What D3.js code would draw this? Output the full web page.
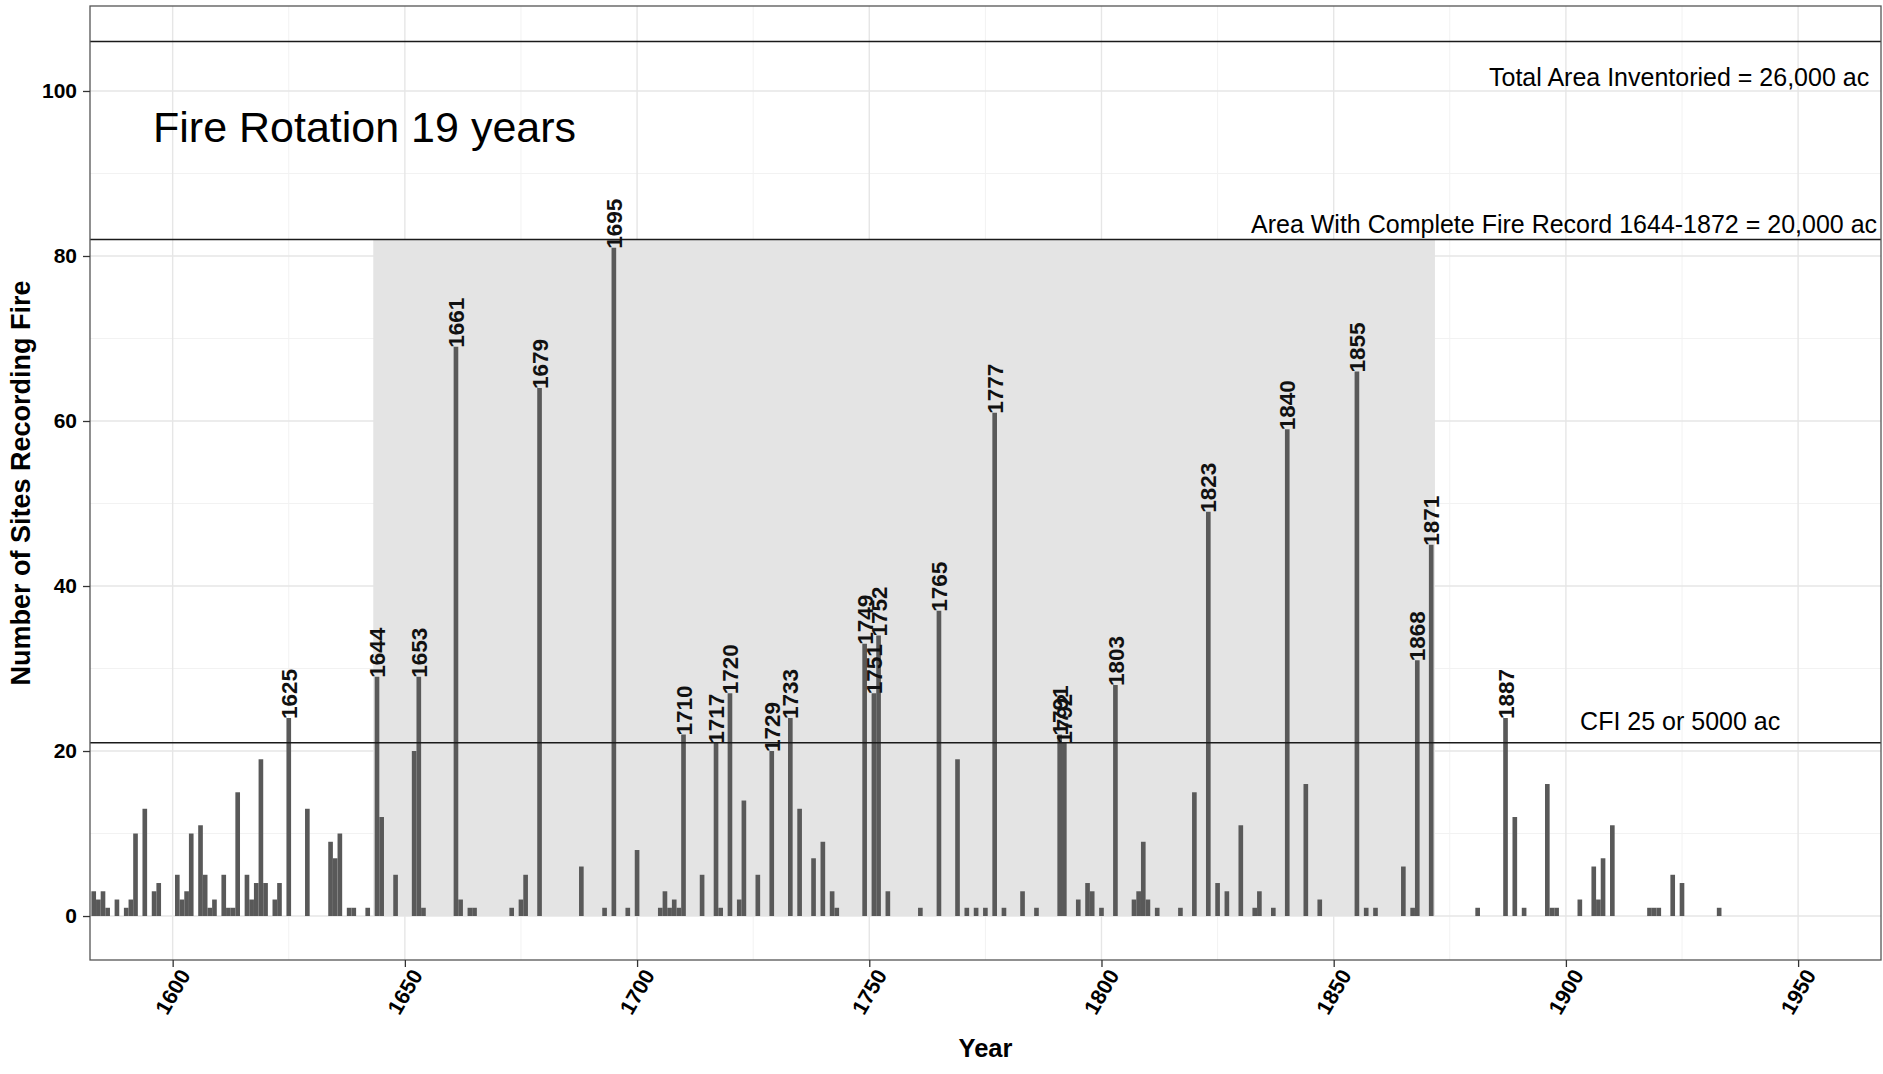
<!DOCTYPE html>
<html><head><meta charset="utf-8">
<script src="https://cdn.jsdelivr.net/npm/d3@7"></script>
<style>
html,body{margin:0;padding:0;background:#fff;}
svg{display:block;}
text{font-family:"Liberation Sans",Arial,sans-serif;}
</style></head>
<body><svg id="chart" width="1883" height="1074"></svg>
<script>
// Fire years and the number of sites recording a fire in each year
const years = [1583,1584,1585,1586,1588,1590,1591,1592,1594,1596,1597,
  1601,1602,1603,1604,1606,1607,1608,1609,1611,1612,1613,1614,1616,1617,1618,1619,1620,1622,1623,1625,1629,1634,1635,1636,1638,1639,1642,1644,1645,1648,
  1652,1653,1654,1661,1662,1664,1665,1673,1675,1676,1679,1688,1693,1695,1698,1700,
  1705,1706,1707,1708,1709,1710,1714,1717,1718,1720,1722,1723,1726,1729,1733,1735,1738,1740,1742,1743,1749,1751,1752,1754,1761,1765,1769,1771,1773,1775,1777,1779,1783,1786,
  1791,1792,1795,1797,1798,1800,1803,1807,1808,1809,1810,1812,1817,1820,1823,1825,1827,1830,1833,1834,1837,1840,1844,1847,
  1855,1857,1859,1865,1867,1868,1871,1881,1887,1889,1891,1896,1897,1898,1903,1906,1907,1908,1910,1918,1919,1920,1923,1925,1933];
const sites = [3,2,3,1,2,1,2,10,13,3,4,
  5,2,3,10,11,5,1,2,5,1,1,15,5,2,4,19,4,2,4,24,13,9,7,10,1,1,1,29,12,5,
  20,29,1,69,2,1,1,1,2,5,64,6,1,81,1,8,
  1,3,1,2,1,22,5,21,1,27,2,14,5,20,24,13,7,9,3,1,33,27,34,3,1,37,19,1,1,1,61,1,3,1,
  22,21,2,4,3,1,28,2,3,9,2,1,1,15,49,4,3,11,1,3,1,59,16,2,
  66,1,1,6,1,31,45,1,24,12,1,16,1,1,2,6,2,7,11,1,1,1,5,4,1];

// Years named above their bars
const labelledYears = [1625,1644,1653,1661,1679,1695,1710,1717,1720,1729,1733,1749,1751,1752,
  1765,1777,1791,1792,1803,1823,1840,1855,1868,1871,1887];

// Period with a complete fire record (shaded)
const completeRecord = [1643.2, 1871.8];
const completeRecordTop = 82;

// Area reference lines (sites) and their notes
const refValues = [106, 82, 21];
const refNotes = ["Total Area Inventoried = 26,000 ac",
  "Area With Complete Fire Record 1644-1872 = 20,000 ac",
  "CFI 25 or 5000 ac"];
const refNoteX = [1965.3, 1967, 1924.6];
const refNoteY = [100.6, 82.8, 22.6];
const refNoteAnchor = ["end", "end", "middle"];

const xTicks = [1600,1650,1700,1750,1800,1850,1900,1950];
const xMinor = [1625,1675,1725,1775,1825,1875,1925];
const yTicks = [0,20,40,60,80,100];
const yMinor = [10,30,50,70,90];

const data = years.map((y, i) => ({year: y, n: sites[i]}));

const svg = d3.select("#chart");
const P = {left: 90, right: 1881, top: 6, bottom: 960};

const x = d3.scaleLinear().domain([1582.2, 1967.85]).range([P.left, P.right]);
const y = d3.scaleLinear().domain([-5.33, 110.3]).range([P.bottom, P.top]);

svg.append("defs").append("clipPath").attr("id", "panel")
  .append("rect").attr("x", P.left).attr("y", P.top)
  .attr("width", P.right - P.left).attr("height", P.bottom - P.top);

const panel = svg.append("g").attr("clip-path", "url(#panel)");

// grid
panel.append("g").selectAll("line").data(xMinor).join("line")
  .attr("x1", d => x(d)).attr("x2", d => x(d)).attr("y1", P.top).attr("y2", P.bottom)
  .attr("stroke", "#f2f2f2").attr("stroke-width", 1);
panel.append("g").selectAll("line").data(yMinor).join("line")
  .attr("y1", d => y(d)).attr("y2", d => y(d)).attr("x1", P.left).attr("x2", P.right)
  .attr("stroke", "#f2f2f2").attr("stroke-width", 1);
panel.append("g").selectAll("line").data(xTicks).join("line")
  .attr("x1", d => x(d)).attr("x2", d => x(d)).attr("y1", P.top).attr("y2", P.bottom)
  .attr("stroke", "#e6e6e6").attr("stroke-width", 1.4);
panel.append("g").selectAll("line").data(yTicks).join("line")
  .attr("y1", d => y(d)).attr("y2", d => y(d)).attr("x1", P.left).attr("x2", P.right)
  .attr("stroke", "#e6e6e6").attr("stroke-width", 1.4);

// shaded complete-record period
panel.append("rect")
  .attr("x", x(completeRecord[0])).attr("width", x(completeRecord[1]) - x(completeRecord[0]))
  .attr("y", y(completeRecordTop)).attr("height", y(0) - y(completeRecordTop))
  .attr("fill", "#e4e4e4");

// bars
const bw = x(1) - x(0);
panel.append("g").selectAll("rect").data(data).join("rect")
  .attr("x", d => x(d.year) - bw / 2).attr("width", bw)
  .attr("y", d => y(d.n)).attr("height", d => y(0) - y(d.n))
  .attr("fill", "#595959");

// reference lines
panel.append("g").selectAll("line").data(refValues).join("line")
  .attr("x1", P.left).attr("x2", P.right)
  .attr("y1", d => y(d)).attr("y2", d => y(d))
  .attr("stroke", "#1a1a1a").attr("stroke-width", 1.3);

// bar labels
const lab = data.filter(d => labelledYears.includes(d.year));
panel.append("g").selectAll("text").data(lab).join("text")
  .attr("transform", d => `translate(${x(d.year)},${y(d.n)}) rotate(-90)`)
  .attr("dy", "0.36em").attr("dx", -1)
  .attr("font-size", 22.5).attr("font-weight", "bold").attr("fill", "#111")
  .text(d => d.year);

// reference notes
svg.append("g").selectAll("text").data(refNotes).join("text")
  .attr("x", (d, i) => x(refNoteX[i])).attr("y", (d, i) => y(refNoteY[i]))
  .attr("text-anchor", (d, i) => refNoteAnchor[i])
  .attr("font-size", 25).attr("fill", "#000")
  .text(d => d);

// fire rotation note
svg.append("text").attr("x", 153).attr("y", 141.5)
  .attr("font-family", "Lato, 'Open Sans', sans-serif")
  .attr("font-size", 43).attr("fill", "#000")
  .text("Fire Rotation 19 years");

// panel border
svg.append("rect").attr("x", P.left).attr("y", P.top)
  .attr("width", P.right - P.left).attr("height", P.bottom - P.top)
  .attr("fill", "none").attr("stroke", "#555").attr("stroke-width", 1.3);

// axes
const xAxis = svg.append("g").attr("transform", `translate(0,${P.bottom})`)
  .call(d3.axisBottom(x).tickValues(xTicks).tickSize(7).tickPadding(0).tickFormat(d3.format("d")));
xAxis.select(".domain").remove();
xAxis.selectAll(".tick line").attr("stroke", "#333").attr("stroke-width", 1.3);
xAxis.selectAll(".tick text")
  .attr("font-size", 21.5).attr("font-weight", "bold").attr("fill", "#000")
  .attr("font-family", "'Liberation Sans', Arial, sans-serif")
  .attr("text-anchor", "middle").attr("dy", null).attr("y", null)
  .attr("transform", "translate(0,32) rotate(-60)")
  .attr("dominant-baseline", "central");

const yAxis = svg.append("g").attr("transform", `translate(${P.left},0)`)
  .call(d3.axisLeft(y).tickValues(yTicks).tickSize(7).tickPadding(6));
yAxis.select(".domain").remove();
yAxis.selectAll(".tick line").attr("stroke", "#333").attr("stroke-width", 1.3);
yAxis.selectAll(".tick text")
  .attr("font-size", 21).attr("font-weight", "bold").attr("fill", "#000")
  .attr("font-family", "'Liberation Sans', Arial, sans-serif");

// axis titles
svg.append("text").attr("x", (P.left + P.right) / 2).attr("y", 1057)
  .attr("text-anchor", "middle").attr("font-size", 25.5).attr("font-weight", "bold")
  .text("Year");
svg.append("text").attr("transform", `translate(30,${(P.top + P.bottom) / 2}) rotate(-90)`)
  .attr("text-anchor", "middle").attr("font-size", 27).attr("font-weight", "bold")
  .text("Number of Sites Recording Fire");
</script>
</body></html>
